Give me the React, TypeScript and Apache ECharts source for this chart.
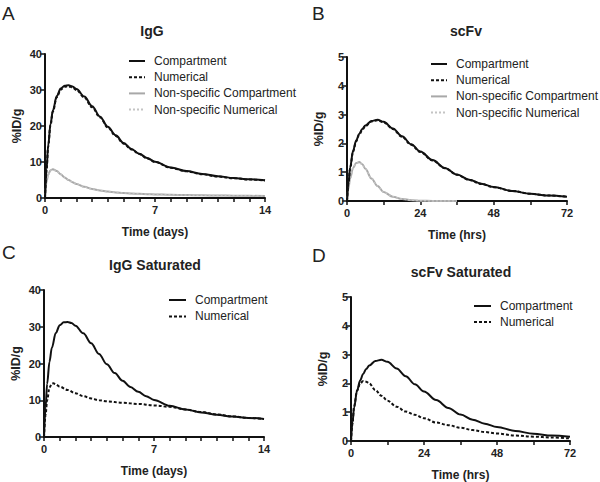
import React, { useEffect, useRef } from "react";
import * as echarts from "echarts";

// ---------- Data ----------
// IgG (days)
const igTime = [0, 0.1, 0.2, 0.35, 0.5, 0.75, 1.0, 1.25, 1.5, 1.75, 2.0, 2.5, 3.0, 3.5, 4.0, 4.5, 5.0, 5.5, 6.0, 6.5, 7.0, 8.0, 9.0, 10.0, 11.0, 12.0, 13.0, 14.0];
const igCompartment = [0, 8, 14.5, 20.5, 24.3, 28.3, 30.4, 31.2, 31.3, 31.0, 30.3, 28.2, 25.5, 22.6, 19.8, 17.4, 15.3, 13.6, 12.3, 11.1, 10.1, 8.5, 7.5, 6.7, 6.05, 5.55, 5.2, 4.9];
const igNumerical = [0, 7.8, 14.2, 20.2, 24.0, 28.0, 30.1, 30.9, 31.0, 30.7, 30.0, 27.9, 25.2, 22.4, 19.6, 17.2, 15.1, 13.5, 12.2, 11.0, 10.0, 8.4, 7.4, 6.6, 5.95, 5.5, 5.15, 4.85];
const igNsCompartment = [0, 4.5, 6.5, 7.7, 8.0, 7.5, 6.6, 5.7, 5.0, 4.4, 3.9, 3.1, 2.5, 2.1, 1.8, 1.55, 1.4, 1.27, 1.15, 1.07, 1.0, 0.9, 0.8, 0.75, 0.7, 0.65, 0.6, 0.55];
const igNsNumerical = [0, 4.4, 6.4, 7.6, 7.9, 7.4, 6.5, 5.7, 5.0, 4.4, 3.9, 3.1, 2.5, 2.1, 1.8, 1.55, 1.4, 1.27, 1.15, 1.07, 1.0, 0.9, 0.8, 0.75, 0.7, 0.65, 0.6, 0.55];
// IgG saturated numerical
const igSatTime = [0, 0.1, 0.2, 0.35, 0.5, 0.6, 0.75, 1.0, 1.5, 2.0, 2.5, 3.0, 3.5, 4.0, 5.0, 6.0, 7.0, 8.0, 9.0, 10.0, 11.0, 12.0, 13.0, 14.0];
const igSatNumerical = [0, 6, 10, 13.5, 14.5, 14.6, 14.3, 13.7, 12.8, 11.9, 11.1, 10.5, 10.0, 9.7, 9.3, 9.0, 8.6, 8.2, 7.5, 6.8, 6.15, 5.6, 5.2, 4.9];

// scFv (hours)
const scTime = [0, 0.5, 1, 2, 3, 4, 5, 6, 8, 10, 12, 15, 18, 21, 24, 28, 32, 36, 40, 44, 48, 54, 60, 66, 72];
const scCompartment = [0, 0.65, 1.15, 1.75, 2.1, 2.33, 2.5, 2.62, 2.78, 2.82, 2.75, 2.52, 2.25, 1.97, 1.72, 1.42, 1.15, 0.92, 0.74, 0.6, 0.49, 0.35, 0.25, 0.19, 0.15];
const scNumerical = [0, 0.63, 1.12, 1.72, 2.07, 2.3, 2.47, 2.6, 2.76, 2.8, 2.73, 2.5, 2.23, 1.95, 1.7, 1.41, 1.14, 0.91, 0.73, 0.59, 0.48, 0.35, 0.25, 0.19, 0.15];
const scNsTime = [0, 0.5, 1, 2, 3, 4, 5, 6, 8, 10, 12, 15, 18, 21, 24, 28, 32, 36];
const scNsCompartment = [0, 0.45, 0.78, 1.15, 1.32, 1.35, 1.28, 1.12, 0.78, 0.52, 0.31, 0.15, 0.07, 0.03, 0.01, 0, 0, 0];
const scNsNumerical = [0, 0.44, 0.77, 1.14, 1.31, 1.34, 1.27, 1.11, 0.78, 0.52, 0.31, 0.15, 0.07, 0.03, 0.01, 0, 0, 0];
// scFv saturated numerical
const scSatNumerical = [0, 0.6, 1.2, 1.75, 2.0, 2.08, 2.06, 2.0, 1.77, 1.57, 1.4, 1.19, 1.02, 0.91, 0.79, 0.64, 0.55, 0.46, 0.38, 0.31, 0.26, 0.19, 0.15, 0.12, 0.09];

const panelLetters = ["A", "B", "C", "D"];
const panelTitles = ["IgG", "scFv", "IgG Saturated", "scFv Saturated"];
const xNames = ["Time (days)", "Time (hrs)", "Time (days)", "Time (hrs)"];
const yName = "%ID/g";

const FONT = "'Liberation Sans', Arial, Helvetica, sans-serif";
const TXT = "#222";

function zip(xs: number[], ys: number[]) {
  return xs.map((x, i) => [x, ys[i]]);
}

export default function App() {
  const ref = useRef<HTMLDivElement>(null);
  useEffect(() => {
    if (!ref.current) return;
    const chart = echarts.init(ref.current, undefined, { renderer: "svg" });

    const grids = [
      { left: 45, top: 54, width: 220, height: 144 },
      { left: 347, top: 57, width: 220, height: 144 },
      { left: 44, top: 290, width: 220, height: 147 },
      { left: 351, top: 297, width: 219, height: 146 },
    ];
    const xMax = [14, 72, 14, 72];
    const xInt = [7, 24, 7, 24];
    const xMinorSplit = [7, 2, 7, 2];
    const yMax = [40, 5, 40, 5];
    const yInt = [10, 1, 10, 1];

    const axisLine = { show: true, lineStyle: { color: "#111", width: 2 } };
    const xAxis = grids.map((_, i) => ({
      type: "value",
      gridIndex: i,
      min: 0,
      max: xMax[i],
      interval: xInt[i],
      axisLine,
      axisTick: { show: true, length: 4, lineStyle: { color: "#111", width: 1.5 } },
      minorTick: { show: true, splitNumber: xMinorSplit[i], length: 4, lineStyle: { color: "#111", width: 1.5 } },
      splitLine: { show: false },
      axisLabel: { color: TXT, fontSize: 11, fontWeight: "bold", fontFamily: FONT, margin: 6 },
      name: xNames[i],
      nameLocation: "middle",
      nameGap: 28,
      nameTextStyle: { color: TXT, fontSize: 12, fontWeight: "bold", fontFamily: FONT },
    }));
    const yAxis = grids.map((_, i) => ({
      type: "value",
      gridIndex: i,
      min: 0,
      max: yMax[i],
      interval: yInt[i],
      axisLine,
      axisTick: { show: true, length: 5, lineStyle: { color: "#111", width: 1.5 } },
      splitLine: { show: false },
      axisLabel: { color: TXT, fontSize: 11, fontWeight: "bold", fontFamily: FONT, margin: 3 },
      name: yName,
      nameLocation: "middle",
      nameGap: 22,
      nameTextStyle: { color: TXT, fontSize: 12.5, fontWeight: "bold", fontFamily: FONT },
    }));

    const solidBlack = { color: "#111", width: 2, type: "solid" };
    const dashBlack = { color: "#111", width: 2, type: [3, 2] };
    const solidGrey = { color: "#a8a8a8", width: 2, type: "solid" };
    const dotGrey = { color: "#c4c4c4", width: 1.5, type: [2, 2] };

    const mk = (name: string, idx: number, data: number[][], ls: any, z = 2) => ({
      type: "line",
      name,
      xAxisIndex: idx,
      yAxisIndex: idx,
      data,
      showSymbol: false,
      symbol: "none",
      smooth: 0.35,
      smoothMonotone: "x",
      lineStyle: ls,
      itemStyle: { color: ls.color },
      z,
    });

    const series = [
      mk("Non-specific Compartment", 0, zip(igTime, igNsCompartment), solidGrey),
      mk("Non-specific Numerical", 0, zip(igTime, igNsNumerical), dotGrey, 3),
      mk("Compartment", 0, zip(igTime, igCompartment), solidBlack, 4),
      mk("Numerical", 0, zip(igTime, igNumerical), dashBlack, 5),

      mk("Non-specific Compartment", 1, zip(scNsTime, scNsCompartment), solidGrey),
      mk("Non-specific Numerical", 1, zip(scNsTime, scNsNumerical), dotGrey, 3),
      mk("Compartment", 1, zip(scTime, scCompartment), solidBlack, 4),
      mk("Numerical", 1, zip(scTime, scNumerical), dashBlack, 5),

      mk("Compartment", 2, zip(igTime, igCompartment), solidBlack, 4),
      mk("Numerical", 2, zip(igSatTime, igSatNumerical), dashBlack, 5),

      mk("Compartment", 3, zip(scTime, scCompartment), solidBlack, 4),
      mk("Numerical", 3, zip(scTime, scSatNumerical), dashBlack, 5),
    ];

    const legendBase = {
      orient: "vertical",
      itemWidth: 16,
      itemHeight: 14,
      selectedMode: false,
      padding: 0,
      itemStyle: { opacity: 0 },
      textStyle: { color: TXT, fontSize: 12, fontFamily: FONT, padding: [0, 0, 0, 4] },
    };
    const fourNames = ["Compartment", "Numerical", "Non-specific Compartment", "Non-specific Numerical"];
    const twoNames = ["Compartment", "Numerical"];
    const legend = [
      { ...legendBase, left: 128, top: 55, itemGap: 4.2, data: fourNames },
      { ...legendBase, left: 430, top: 58, itemGap: 4.2, data: fourNames },
      { ...legendBase, left: 168, top: 294, itemGap: 4.4, itemWidth: 17, data: twoNames },
      { ...legendBase, left: 473, top: 300, itemGap: 4.0, itemWidth: 17, data: twoNames },
    ];

    const letterPos = [
      [2, 4],
      [312, 4],
      [2, 243],
      [312, 246],
    ];
    const titleCenter = [
      [152, 24],
      [466, 24],
      [155, 258],
      [461, 265],
    ];
    const title: any[] = [];
    panelLetters.forEach((t, i) => {
      title.push({
        text: t,
        left: letterPos[i][0],
        top: letterPos[i][1],
        padding: 0,
        textStyle: { color: TXT, fontSize: 19, fontWeight: "normal", fontFamily: FONT },
      });
    });
    panelTitles.forEach((t, i) => {
      title.push({
        text: t,
        left: titleCenter[i][0],
        top: titleCenter[i][1],
        padding: 0,
        textAlign: "center",
        textStyle: { color: TXT, fontSize: 14, fontWeight: "bold", fontFamily: FONT },
      });
    });

    chart.setOption({
      animation: false,
      backgroundColor: "#fff",
      title,
      legend,
      grid: grids,
      xAxis,
      yAxis,
      series,
    });
    return () => chart.dispose();
  }, []);
  return (
    <div
      ref={ref}
      style={{ position: "fixed", left: 0, top: 0, width: 600, height: 482 }}
    />
  );
}
